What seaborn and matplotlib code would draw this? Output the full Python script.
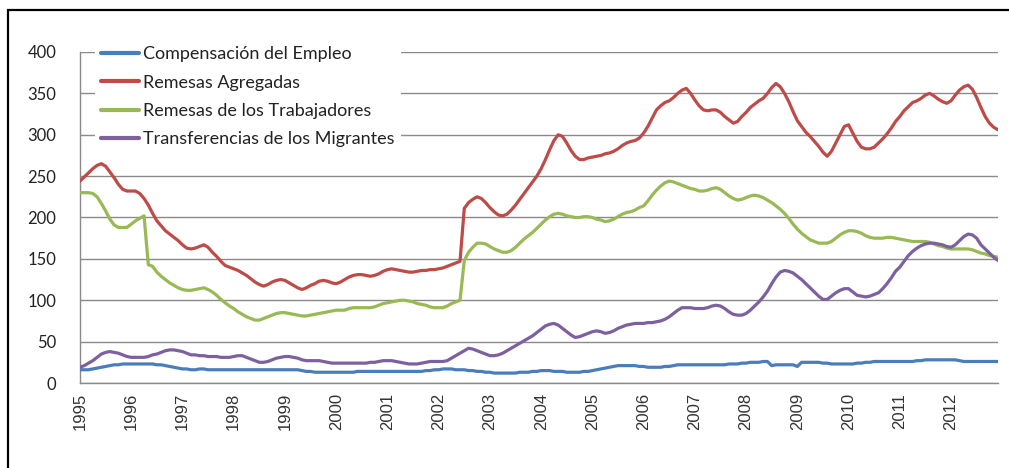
import numpy as np
import pandas as pd
import matplotlib
matplotlib.use("Agg")
import matplotlib.pyplot as plt
from matplotlib.patches import Rectangle
import seaborn as sns

# Monthly series, Jan 1995 - Dec 2012 (one row per year)
compensacion_empleo = [
    16, 16, 16, 17, 18, 19, 20, 21, 22, 22, 23, 23,   # 1995
    23, 23, 23, 23, 23, 23, 22, 22, 21, 20, 19, 18,   # 1996
    17, 17, 16, 16, 17, 17, 16, 16, 16, 16, 16, 16,   # 1997
    16, 16, 16, 16, 16, 16, 16, 16, 16, 16, 16, 16,   # 1998
    16, 16, 16, 16, 15, 14, 14, 13, 13, 13, 13, 13,   # 1999
    13, 13, 13, 13, 13, 14, 14, 14, 14, 14, 14, 14,   # 2000
    14, 14, 14, 14, 14, 14, 14, 14, 14, 15, 15, 16,   # 2001
    16, 17, 17, 17, 16, 16, 16, 15, 15, 14, 14, 13,   # 2002
    13, 12, 12, 12, 12, 12, 12, 13, 13, 13, 14, 14,   # 2003
    15, 15, 15, 14, 14, 14, 13, 13, 13, 13, 14, 14,   # 2004
    15, 16, 17, 18, 19, 20, 21, 21, 21, 21, 21, 20,   # 2005
    20, 19, 19, 19, 19, 20, 20, 21, 22, 22, 22, 22,   # 2006
    22, 22, 22, 22, 22, 22, 22, 22, 23, 23, 23, 24,   # 2007
    24, 25, 25, 25, 26, 26, 21, 22, 22, 22, 22, 22,   # 2008
    20, 25, 25, 25, 25, 25, 24, 24, 23, 23, 23, 23,   # 2009
    23, 23, 24, 24, 25, 25, 26, 26, 26, 26, 26, 26,   # 2010
    26, 26, 26, 26, 27, 27, 28, 28, 28, 28, 28, 28,   # 2011
    28, 28, 27, 26, 26, 26, 26, 26, 26, 26, 26, 26,   # 2012
]

remesas_agregadas = [
    244, 249, 254, 259, 263, 265, 262, 255, 248, 240, 234, 232,   # 1995
    232, 232, 229, 223, 215, 205, 196, 190, 184, 180, 176, 172,   # 1996
    167, 163, 162, 163, 165, 167, 164, 158, 153, 147, 142, 140,   # 1997
    138, 136, 133, 130, 126, 122, 119, 117, 119, 122, 124, 125,   # 1998
    124, 121, 118, 115, 113, 115, 118, 120, 123, 124, 123, 121,   # 1999
    120, 122, 125, 128, 130, 131, 131, 130, 129, 130, 132, 135,   # 2000
    137, 138, 137, 136, 135, 134, 134, 135, 136, 136, 137, 137,   # 2001
    138, 139, 141, 143, 145, 147, 211, 218, 222, 225, 223, 218,   # 2002
    212, 207, 203, 202, 204, 209, 215, 222, 229, 236, 243, 250,   # 2003
    259, 270, 282, 293, 300, 298, 290, 281, 274, 270, 270, 272,   # 2004
    273, 274, 275, 277, 278, 280, 283, 287, 290, 292, 293, 296,   # 2005
    302, 310, 320, 330, 335, 339, 341, 345, 350, 354, 356, 350,   # 2006
    342, 335, 330, 329, 330, 330, 327, 322, 318, 314, 316, 322,   # 2007
    327, 333, 337, 341, 344, 350, 357, 362, 358, 350, 340, 328,   # 2008
    317, 310, 303, 298, 292, 286, 279, 274, 280, 290, 300, 310,   # 2009
    312, 302, 292, 285, 283, 283, 285, 290, 295, 301, 308, 316,   # 2010
    322, 329, 334, 339, 341, 344, 348, 350, 347, 343, 340, 338,   # 2011
    341, 348, 354, 358, 360, 355, 345, 333, 322, 314, 309, 306,   # 2012
]

remesas_trabajadores = [
    230, 230, 230, 229, 225, 217, 208, 198, 191, 188, 188, 188,   # 1995
    192, 196, 199, 202, 143, 141, 134, 129, 125, 121, 118, 115,   # 1996
    113, 112, 112, 113, 114, 115, 113, 110, 106, 101, 97, 93,     # 1997
    90, 86, 83, 80, 78, 76, 76, 78, 80, 82, 84, 85,               # 1998
    85, 84, 83, 82, 81, 81, 82, 83, 84, 85, 86, 87,               # 1999
    88, 88, 88, 90, 91, 91, 91, 91, 91, 92, 94, 96,               # 2000
    97, 98, 99, 100, 100, 99, 98, 96, 95, 94, 92, 91,             # 2001
    91, 91, 93, 96, 98, 100, 148, 158, 164, 169, 169, 168,        # 2002
    165, 162, 160, 158, 158, 160, 164, 169, 174, 178, 182, 187,   # 2003
    192, 197, 201, 204, 205, 204, 202, 201, 200, 200, 201, 201,   # 2004
    200, 198, 197, 195, 196, 198, 201, 204, 206, 207, 209, 212,   # 2005
    214, 220, 227, 233, 238, 242, 244, 243, 241, 239, 237, 235,   # 2006
    234, 232, 232, 233, 235, 236, 234, 230, 226, 223, 221, 222,   # 2007
    224, 226, 227, 226, 224, 221, 218, 214, 210, 205, 199, 192,   # 2008
    186, 181, 177, 173, 171, 169, 169, 169, 171, 175, 179, 182,   # 2009
    184, 184, 183, 181, 178, 176, 175, 175, 175, 176, 176, 175,   # 2010
    174, 173, 172, 171, 171, 171, 171, 170, 168, 166, 165, 163,   # 2011
    162, 162, 162, 162, 162, 161, 159, 157, 156, 154, 153, 152,   # 2012
]

transferencias_migrantes = [
    19, 21, 24, 27, 31, 35, 37, 38, 37, 36, 34, 32,               # 1995
    31, 31, 31, 31, 32, 34, 35, 37, 39, 40, 40, 39,               # 1996
    38, 36, 34, 34, 33, 33, 32, 32, 32, 31, 31, 31,               # 1997
    32, 33, 33, 31, 29, 27, 25, 25, 26, 28, 30, 31,               # 1998
    32, 32, 31, 30, 28, 27, 27, 27, 27, 26, 25, 24,               # 1999
    24, 24, 24, 24, 24, 24, 24, 24, 25, 25, 26, 27,               # 2000
    27, 27, 26, 25, 24, 23, 23, 23, 24, 25, 26, 26,               # 2001
    26, 26, 27, 30, 33, 36, 39, 42, 41, 39, 37, 35,               # 2002
    33, 33, 34, 36, 39, 42, 45, 48, 51, 54, 57, 61,               # 2003
    65, 69, 71, 72, 70, 66, 62, 58, 55, 56, 58, 60,               # 2004
    62, 63, 62, 60, 61, 63, 66, 68, 70, 71, 72, 72,               # 2005
    72, 73, 73, 74, 75, 77, 80, 84, 88, 91, 91, 91,               # 2006
    90, 90, 90, 91, 93, 94, 93, 90, 86, 83, 82, 82,               # 2007
    84, 88, 93, 98, 104, 111, 120, 128, 134, 136, 135, 133,       # 2008
    129, 125, 120, 115, 110, 105, 101, 101, 105, 109, 112, 114,   # 2009
    114, 110, 106, 105, 104, 105, 107, 109, 114, 120, 127, 135,   # 2010
    140, 147, 154, 159, 163, 166, 168, 169, 169, 168, 167, 165,   # 2011
    164, 167, 172, 177, 180, 179, 175, 167, 162, 157, 152, 148,   # 2012
]

series_names = [
    "Compensación del Empleo",
    "Remesas Agregadas",
    "Remesas de los Trabajadores",
    "Transferencias de los Migrantes",
]
year_labels = [str(y) for y in range(1995, 2013)]

series_values = [compensacion_empleo, remesas_agregadas,
                 remesas_trabajadores, transferencias_migrantes]
palette = ["#4A7EBB", "#BE4B48", "#98B954", "#7D60A0"]

n_months = len(compensacion_empleo)
fecha = 1995 + np.arange(n_months) / 12.0

df = pd.concat(
    [pd.DataFrame({"fecha": fecha, "valor": vals, "serie": name})
     for name, vals in zip(series_names, series_values)],
    ignore_index=True,
)

sns.set_style("white")
plt.rcParams["font.family"] = ["Lato", "DejaVu Sans"]

W, H = 1009, 468
fig = plt.figure(figsize=(W / 100, H / 100), dpi=100)
ax = fig.add_axes([80 / W, (H - 383) / H, (998 - 80) / W, (383 - 52) / H])

sns.lineplot(data=df, x="fecha", y="valor", hue="serie", hue_order=series_names,
             palette=palette, linewidth=2.3, ax=ax, zorder=3)

grid_col = "#8a8a8a"
ax.set_xlim(1995, fecha[-1])
ax.set_ylim(0, 400)
ax.set_yticks(range(0, 401, 50))
ax.yaxis.grid(True, color=grid_col, linewidth=1.0)
ax.xaxis.grid(False)
ax.set_axisbelow(True)

years = np.arange(1995, 2013)
ax.set_xticks(years)
ax.set_xticklabels(year_labels, rotation=90, fontsize=12,
                   family=["Liberation Sans", "DejaVu Sans"], color="#333333")
ax.set_xticks(fecha, minor=True)
ax.tick_params(axis="x", which="both", direction="out", length=6, width=0.8,
               color=grid_col, pad=1)
ax.tick_params(axis="y", direction="out", length=5, width=1.0,
               color=grid_col, pad=12, labelsize=12, labelcolor="#222222")

for side in ("top", "right"):
    ax.spines[side].set_visible(False)
for side in ("left", "bottom"):
    ax.spines[side].set_color(grid_col)
    ax.spines[side].set_linewidth(1.0)

ax.set_xlabel("")
ax.set_ylabel("")

handles, labels = ax.get_legend_handles_labels()
leg = ax.legend(handles, labels, loc="upper left",
                bbox_to_anchor=(95 / W, (H - 40) / H), bbox_transform=fig.transFigure,
                frameon=True, facecolor="white", edgecolor="none", framealpha=1.0,
                fontsize=13, handlelength=2.1, handletextpad=0.2,
                labelspacing=0.68, borderpad=0.35, borderaxespad=0)
for line in leg.get_lines():
    line.set_linewidth(3)
for txt in leg.get_texts():
    txt.set_color("#222222")
leg.set_zorder(5)

# outer frame around the chart
fig.patches.append(Rectangle((8 / W, -0.2), 1.5, (H - 10) / H + 0.2,
                             transform=fig.transFigure, fill=False,
                             edgecolor="black", linewidth=1.6))

fig.savefig("out.png", dpi=100)
